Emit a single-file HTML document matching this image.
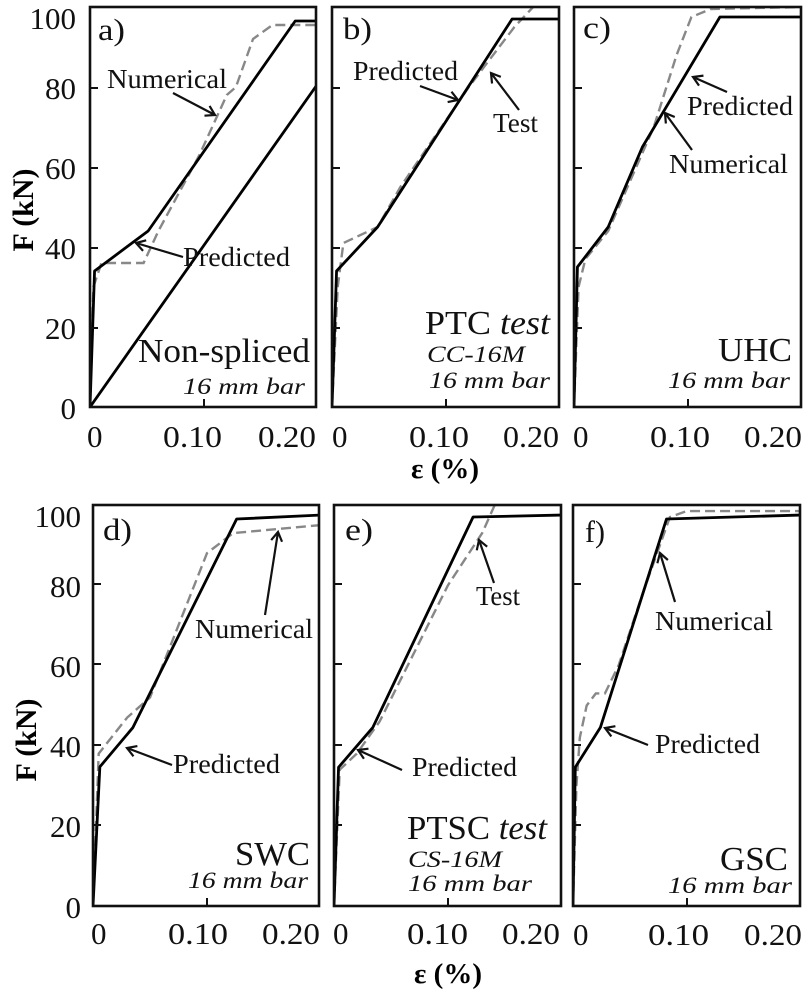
<!DOCTYPE html>
<html><head><meta charset="utf-8"><style>
html,body{margin:0;padding:0;background:#fff;}
svg{display:block;font-family:"Liberation Serif",serif;}
.f{fill:none;stroke:#111;stroke-width:2.6;}
.p{fill:none;stroke:#000;stroke-width:2.8;vector-effect:non-scaling-stroke;stroke-linejoin:round;}
.d{fill:none;stroke:#888;stroke-width:2.4;stroke-dasharray:10 5;vector-effect:non-scaling-stroke;}
.n{font-size:31px;fill:#111;}
.lb{font-size:27px;fill:#111;}
.cap{font-size:34px;fill:#111;}
.it{font-size:23px;font-style:italic;fill:#111;}
.ar{stroke:#111;stroke-width:2.2;fill:none;}
</style></head><body>
<svg width="809" height="1000" viewBox="0 0 809 1000">
<defs>
<marker id="m" markerWidth="14" markerHeight="14" refX="11" refY="7" orient="auto" markerUnits="userSpaceOnUse"><path d="M2,1.5 L11,7 L2,12.5" fill="none" stroke="#111" stroke-width="2.2"/></marker>
<clipPath id="ca"><rect x="90" y="7" width="226" height="400"/></clipPath>
<clipPath id="cb"><rect x="332" y="7" width="227" height="400"/></clipPath>
<clipPath id="cc"><rect x="574" y="7" width="227" height="400"/></clipPath>
<clipPath id="cd"><rect x="93" y="505" width="226" height="401"/></clipPath>
<clipPath id="ce"><rect x="334" y="505" width="227" height="401"/></clipPath>
<clipPath id="cf"><rect x="573" y="505" width="227" height="401"/></clipPath>
</defs>

<!-- series -->
<g clip-path="url(#ca)"><g transform="translate(90,407) scale(1140,-4)">
<polyline class="d" points="0,0 0.003,30 0.01,36 0.047,36 0.06,44 0.096,63 0.12,78 0.128,80 0.143,92 0.16,95.5 0.2,95.5"/>
<polyline class="p" points="0,0 0.004,34 0.051,44 0.18,96.5 0.2,96.5"/>
<polyline class="p" points="0,0 0.199,80.5"/>
</g></g>
<g clip-path="url(#cb)"><g transform="translate(332,407) scale(1140,-4)">
<polyline class="d" points="0,0 0.005,30 0.01,41 0.04,45 0.06,55 0.12,80 0.16,95 0.183,102 0.2,104"/>
<polyline class="p" points="0,0 0.004,34 0.04,45 0.158,97 0.2,97"/>
</g></g>
<g clip-path="url(#cc)"><g transform="translate(574,407) scale(1140,-4)">
<polyline class="d" points="0,0 0.004,30 0.01,37 0.03,44 0.07,70 0.09,88 0.103,97.5 0.12,99.5 0.2,100"/>
<polyline class="p" points="0,0 0.003,35 0.03,45 0.06,65 0.128,97.5 0.2,97.5"/>
</g></g>
<g clip-path="url(#cd)"><g transform="translate(93,906) scale(1140,-4.01)">
<polyline class="d" points="0,0 0.005,38 0.03,47 0.05,52 0.1,88 0.123,93 0.2,95"/>
<polyline class="p" points="0,0 0.006,34.7 0.035,44.5 0.126,96.5 0.2,97.5"/>
</g></g>
<g clip-path="url(#ce)"><g transform="translate(334,906) scale(1140,-4.01)">
<polyline class="d" points="0,0 0.005,34 0.02,38 0.04,46 0.1,80 0.13,93 0.141,100 0.15,106"/>
<polyline class="p" points="0,0 0.004,34.6 0.034,44.5 0.122,97 0.2,97.5"/>
</g></g>
<g clip-path="url(#cf)"><g transform="translate(573,906) scale(1140,-4.01)">
<polyline class="d" points="0,0 0.003,30 0.006,42 0.012,50 0.02,53 0.028,53 0.04,60 0.06,77 0.085,97 0.1,98.5 0.2,98.5"/>
<polyline class="p" points="0,0 0.002,34.6 0.024,44.5 0.082,96.5 0.2,97.5"/>
</g></g>

<!-- frames -->
<rect class="f" x="90" y="7" width="226" height="400"/>
<rect class="f" x="332" y="7" width="227" height="400"/>
<rect class="f" x="574" y="7" width="227" height="400"/>
<rect class="f" x="93" y="505" width="226" height="401"/>
<rect class="f" x="334" y="505" width="227" height="401"/>
<rect class="f" x="573" y="505" width="227" height="401"/>

<!-- ticks -->
<g stroke="#111" stroke-width="2">
<path d="M90,88h8M90,168h8M90,248h8M90,328h8M204,407v-8"/>
<path d="M332,88h8M332,168h8M332,248h8M332,328h8M446,407v-8"/>
<path d="M574,88h8M574,168h8M574,248h8M574,328h8M688,407v-8"/>
<path d="M93,584h8M93,664h8M93,745h8M93,825h8M207,906v-8"/>
<path d="M334,584h8M334,664h8M334,745h8M334,825h8M448,906v-8"/>
<path d="M573,584h8M573,664h8M573,745h8M573,825h8M687,906v-8"/>
</g>

<!-- y tick labels -->
<g class="n" text-anchor="end">
<text x="76" y="29">100</text><text x="76" y="99">80</text><text x="76" y="179">60</text><text x="76" y="259">40</text><text x="76" y="339">20</text><text x="76" y="419">0</text>
<text x="81" y="527">100</text><text x="81" y="597">80</text><text x="81" y="677">60</text><text x="81" y="757">40</text><text x="81" y="837">20</text><text x="81" y="918">0</text>
</g>
<text transform="translate(33,210) rotate(-90)" text-anchor="middle" style="font-size:30px;font-weight:bold">F (kN)</text>
<text transform="translate(36,740) rotate(-90)" text-anchor="middle" style="font-size:30px;font-weight:bold">F (kN)</text>

<!-- x tick labels -->
<g class="n">
<text x="87" y="447">0</text><text x="163" y="447" textLength="59" lengthAdjust="spacingAndGlyphs">0.10</text><text x="258" y="447" textLength="58" lengthAdjust="spacingAndGlyphs">0.20</text>
<text x="332" y="447">0</text><text x="409" y="447" textLength="60" lengthAdjust="spacingAndGlyphs">0.10</text><text x="503" y="447" textLength="56" lengthAdjust="spacingAndGlyphs">0.20</text>
<text x="573" y="447">0</text><text x="650" y="447" textLength="60" lengthAdjust="spacingAndGlyphs">0.10</text><text x="744" y="447" textLength="58" lengthAdjust="spacingAndGlyphs">0.20</text>
<text x="91" y="944">0</text><text x="168" y="944" textLength="60" lengthAdjust="spacingAndGlyphs">0.10</text><text x="262" y="944" textLength="58" lengthAdjust="spacingAndGlyphs">0.20</text>
<text x="333" y="944">0</text><text x="407" y="944" textLength="61" lengthAdjust="spacingAndGlyphs">0.10</text><text x="502" y="944" textLength="58" lengthAdjust="spacingAndGlyphs">0.20</text>
<text x="573" y="945">0</text><text x="648" y="945" textLength="61" lengthAdjust="spacingAndGlyphs">0.10</text><text x="744" y="945" textLength="58" lengthAdjust="spacingAndGlyphs">0.20</text>
</g>
<text x="445" y="478" text-anchor="middle" style="font-size:29px;font-weight:bold">ε (%)</text>
<text x="448" y="983" text-anchor="middle" style="font-size:29px;font-weight:bold">ε (%)</text>

<!-- panel a labels -->
<text class="n" x="98" y="40" textLength="27" lengthAdjust="spacingAndGlyphs">a)</text>
<text class="lb" x="107" y="88" textLength="120" lengthAdjust="spacingAndGlyphs">Numerical</text>
<line class="ar" x1="173" y1="93" x2="215" y2="115" marker-end="url(#m)"/>
<text class="lb" x="183" y="266" textLength="107" lengthAdjust="spacingAndGlyphs">Predicted</text>
<line class="ar" x1="183" y1="257" x2="136" y2="243" marker-end="url(#m)"/>
<text class="cap" x="138" y="362" textLength="172" lengthAdjust="spacingAndGlyphs">Non-spliced</text>
<text class="it" x="183" y="394" textLength="122" lengthAdjust="spacingAndGlyphs">16 mm bar</text>

<!-- panel b -->
<text class="n" x="343" y="39" textLength="29" lengthAdjust="spacingAndGlyphs">b)</text>
<text class="lb" x="353" y="80" textLength="105" lengthAdjust="spacingAndGlyphs">Predicted</text>
<line class="ar" x1="420" y1="86" x2="458" y2="100" marker-end="url(#m)"/>
<text class="lb" x="493" y="132" textLength="45" lengthAdjust="spacingAndGlyphs">Test</text>
<line class="ar" x1="519" y1="110" x2="491" y2="73" marker-end="url(#m)"/>
<text class="cap" x="425" y="334" textLength="125" lengthAdjust="spacingAndGlyphs">PTC <tspan font-style="italic">test</tspan></text>
<text class="it" x="427" y="362" textLength="98" lengthAdjust="spacingAndGlyphs">CC-16M</text>
<text class="it" x="429" y="388" textLength="121" lengthAdjust="spacingAndGlyphs">16 mm bar</text>

<!-- panel c -->
<text class="n" x="583" y="38" textLength="28" lengthAdjust="spacingAndGlyphs">c)</text>
<text class="lb" x="687" y="115" textLength="106" lengthAdjust="spacingAndGlyphs">Predicted</text>
<line class="ar" x1="727" y1="92" x2="693" y2="77" marker-end="url(#m)"/>
<text class="lb" x="669" y="173" textLength="119" lengthAdjust="spacingAndGlyphs">Numerical</text>
<line class="ar" x1="692" y1="150" x2="665" y2="113" marker-end="url(#m)"/>
<text class="cap" x="718" y="361" textLength="74" lengthAdjust="spacingAndGlyphs">UHC</text>
<text class="it" x="668" y="388" textLength="122" lengthAdjust="spacingAndGlyphs">16 mm bar</text>

<!-- panel d -->
<text class="n" x="103" y="540" textLength="29" lengthAdjust="spacingAndGlyphs">d)</text>
<text class="lb" x="195" y="638" textLength="118" lengthAdjust="spacingAndGlyphs">Numerical</text>
<line class="ar" x1="265" y1="615" x2="278" y2="532" marker-end="url(#m)"/>
<text class="lb" x="173" y="773" textLength="107" lengthAdjust="spacingAndGlyphs">Predicted</text>
<line class="ar" x1="172" y1="765" x2="127" y2="748" marker-end="url(#m)"/>
<text class="cap" x="235" y="865" textLength="75" lengthAdjust="spacingAndGlyphs">SWC</text>
<text class="it" x="188" y="888" textLength="120" lengthAdjust="spacingAndGlyphs">16 mm bar</text>

<!-- panel e -->
<text class="n" x="345" y="540" textLength="28" lengthAdjust="spacingAndGlyphs">e)</text>
<text class="lb" x="476" y="605" textLength="44" lengthAdjust="spacingAndGlyphs">Test</text>
<line class="ar" x1="494" y1="583" x2="479" y2="540" marker-end="url(#m)"/>
<text class="lb" x="412" y="776" textLength="105" lengthAdjust="spacingAndGlyphs">Predicted</text>
<line class="ar" x1="402" y1="770" x2="358" y2="750" marker-end="url(#m)"/>
<text class="cap" x="407" y="839" textLength="140" lengthAdjust="spacingAndGlyphs">PTSC <tspan font-style="italic">test</tspan></text>
<text class="it" x="408" y="867" textLength="94" lengthAdjust="spacingAndGlyphs">CS-16M</text>
<text class="it" x="408" y="891" textLength="124" lengthAdjust="spacingAndGlyphs">16 mm bar</text>

<!-- panel f -->
<text class="n" x="585" y="542" textLength="20" lengthAdjust="spacingAndGlyphs">f)</text>
<text class="lb" x="655" y="630" textLength="118" lengthAdjust="spacingAndGlyphs">Numerical</text>
<line class="ar" x1="675" y1="602" x2="660" y2="553" marker-end="url(#m)"/>
<text class="lb" x="655" y="753" textLength="105" lengthAdjust="spacingAndGlyphs">Predicted</text>
<line class="ar" x1="648" y1="745" x2="605" y2="728" marker-end="url(#m)"/>
<text class="cap" x="720" y="870" textLength="68" lengthAdjust="spacingAndGlyphs">GSC</text>
<text class="it" x="668" y="893" textLength="124" lengthAdjust="spacingAndGlyphs">16 mm bar</text>
</svg>
</body></html>
